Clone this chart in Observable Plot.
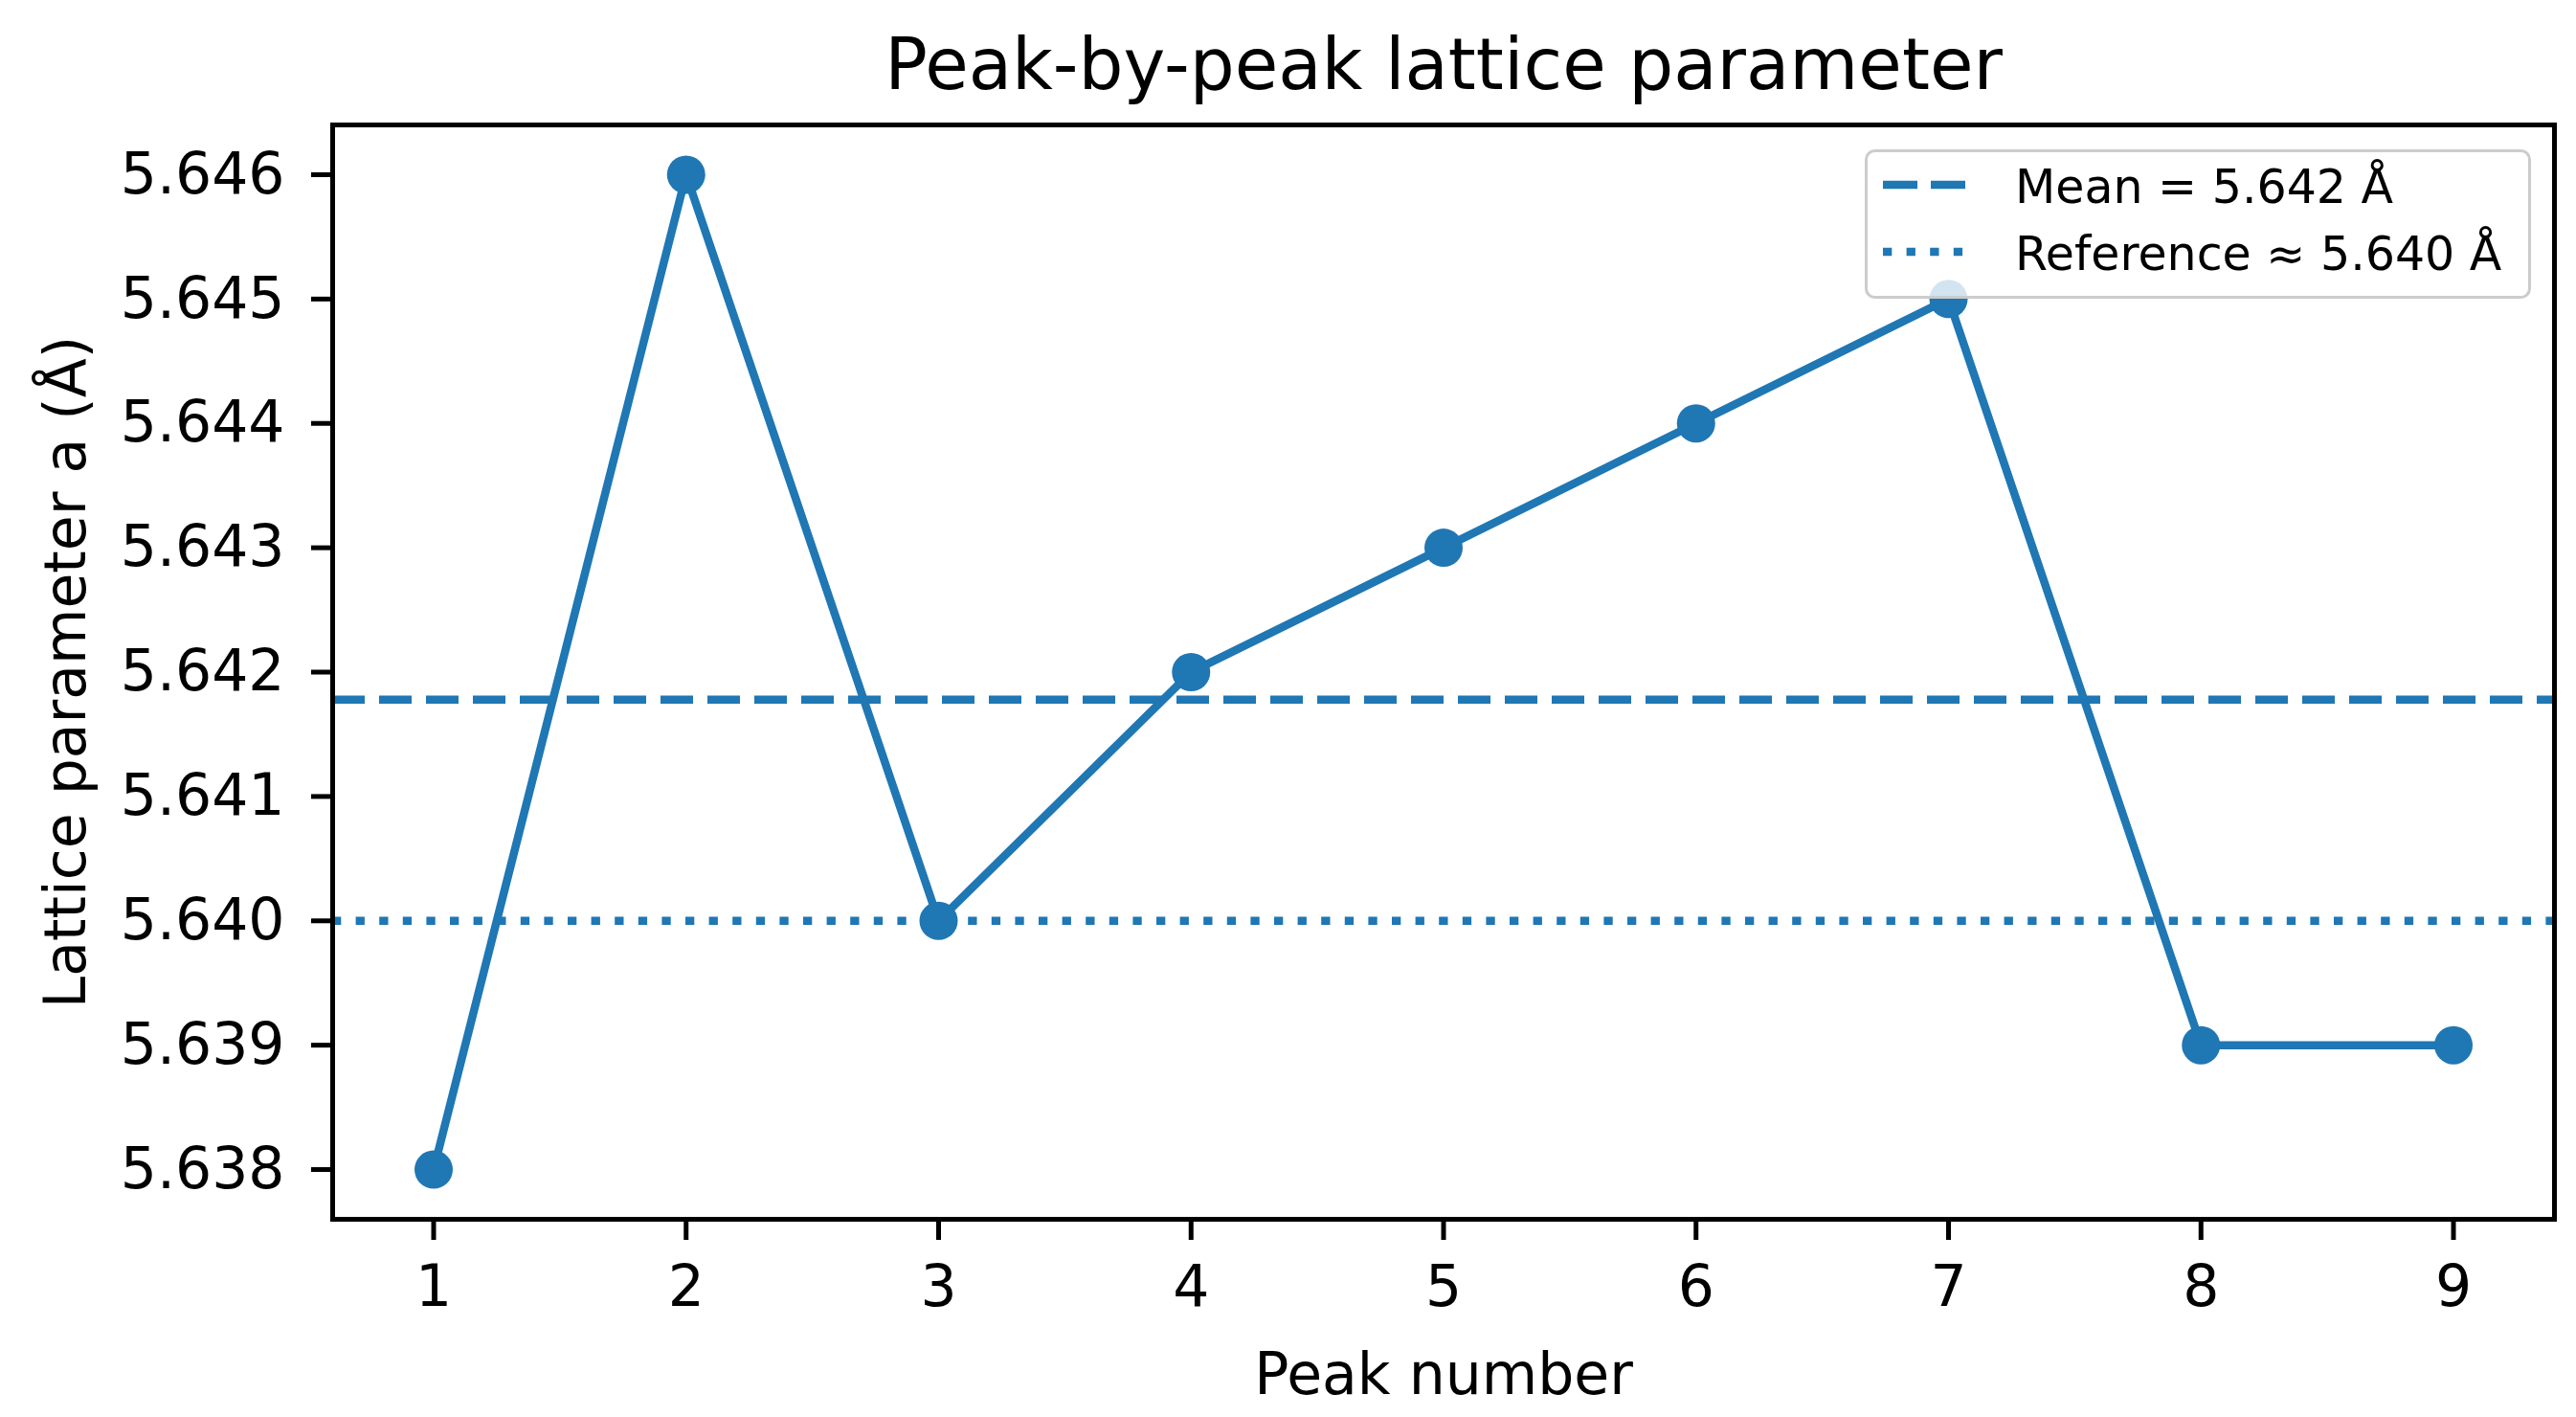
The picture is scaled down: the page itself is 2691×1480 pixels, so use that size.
<!DOCTYPE html>
<html>
<head>
<meta charset="utf-8">
<script src="https://cdn.jsdelivr.net/npm/d3@7"></script>
<script src="https://cdn.jsdelivr.net/npm/@observablehq/plot@0.6"></script>
<style>
  html, body { margin: 0; padding: 0; background: #ffffff; }
  #wrap { position: relative; width: 2691px; height: 1480px; font-family: "DejaVu Sans", sans-serif; }
  #legend { position: absolute; left: 1948px; top: 156px; }
</style>
</head>
<body>
<div id="wrap">
  <div id="chart"></div>
  <div id="legend"></div>
</div>
<script>
// ---- data ----
const peakNumbers = [1, 2, 3, 4, 5, 6, 7, 8, 9];
const latticeA = [5.638, 5.646, 5.640, 5.642, 5.643, 5.644, 5.645, 5.639, 5.639];
const xTicks = [1, 2, 3, 4, 5, 6, 7, 8, 9];
const yTicks = [5.638, 5.639, 5.640, 5.641, 5.642, 5.643, 5.644, 5.645, 5.646];
const referenceValue = 5.640;
const meanValue = d3.mean(latticeA);
const titleText = "Peak-by-peak lattice parameter";
const xLabel = "Peak number";
const yLabel = "Lattice parameter a (Å)";
const legendLabels = [
  `Mean = ${meanValue.toFixed(3)} Å`,
  `Reference ≈ ${referenceValue.toFixed(3)} Å`
];

const blue = "#1f77b4";
const rows = peakNumbers.map((p, i) => ({peak: p, a: latticeA[i]}));

const chart = Plot.plot({
  width: 2691,
  height: 1480,
  marginTop: 130,
  marginBottom: 207,
  marginLeft: 347,
  marginRight: 23,
  style: {fontFamily: "DejaVu Sans", background: "#ffffff", color: "#000000", overflow: "visible"},
  x: {domain: [0.6, 9.4]},
  y: {domain: [5.6376, 5.6464]},
  marks: [
    Plot.ruleY([meanValue], {stroke: blue, strokeWidth: 8.5, strokeDasharray: "34,15"}),
    Plot.ruleY([referenceValue], {stroke: blue, strokeWidth: 8.5, strokeDasharray: "9.3,15.3"}),
    Plot.line(rows, {x: "peak", y: "a", stroke: blue, strokeWidth: 8.5, strokeLinejoin: "round"}),
    Plot.dot(rows, {x: "peak", y: "a", r: 20, fill: blue, stroke: null}),
    Plot.frame({stroke: "#000000", strokeWidth: 5}),
    Plot.axisX({ticks: xTicks, tickSize: 22, tickPadding: 26, fontSize: 60, strokeWidth: 5,
      tickFormat: d => String(d), label: null}),
    Plot.axisY({ticks: yTicks, tickSize: 22, tickPadding: 28, fontSize: 60, strokeWidth: 5,
      tickFormat: d3.format(".3f"), label: null}),
    Plot.text([xLabel], {text: d => d, frameAnchor: "bottom", lineAnchor: "bottom", dy: 182, fontSize: 60, fill: "#000000"}),
    Plot.text([yLabel], {text: d => d, frameAnchor: "left", textAnchor: "middle", rotate: -90, lineAnchor: "bottom", dx: -259, fontSize: 60, fill: "#000000"}),
    Plot.text([titleText], {text: d => d, frameAnchor: "top", lineAnchor: "bottom", dy: -38, fontSize: 74, fill: "#000000"})
  ]
});
document.getElementById("chart").appendChild(chart);

// ---- legend ----
const lw = 696, lh = 156;
const lg = d3.select("#legend").append("svg")
  .attr("width", lw).attr("height", lh)
  .style("font-family", "DejaVu Sans")
  .style("display", "block");
lg.append("rect")
  .attr("x", 1.5).attr("y", 1.5).attr("width", lw - 3).attr("height", lh - 3)
  .attr("rx", 9).attr("ry", 9)
  .attr("fill", "#ffffff").attr("fill-opacity", 0.8)
  .attr("stroke", "#cccccc").attr("stroke-width", 3);
const styles = ["36,14", "9.3,15.3"];
legendLabels.forEach((lab, i) => {
  const cy = 37 + i * 70;
  lg.append("line")
    .attr("x1", 19).attr("x2", 105).attr("y1", cy).attr("y2", cy)
    .attr("stroke", blue).attr("stroke-width", 8.5)
    .attr("stroke-dasharray", styles[i]);
  lg.append("text")
    .attr("x", 157).attr("y", 56 + i * 70)
    .attr("font-size", 49).attr("fill", "#000000")
    .text(lab);
});
</script>
</body>
</html>
